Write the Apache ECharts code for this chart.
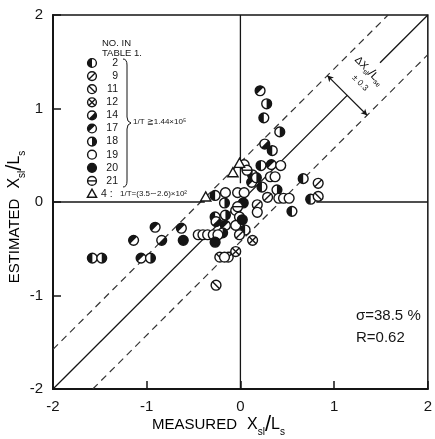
<!DOCTYPE html>
<html>
<head>
<meta charset="utf-8">
<script src="https://cdn.jsdelivr.net/npm/echarts@6/dist/echarts.min.js"></script>
<style>
html,body{margin:0;padding:0;background:#fff}
#chart{width:435px;height:439px}
</style>
</head>
<body>
<div id="chart"></div>
<script>
// measured / estimated Xsl/Ls, grouped by No. in Table 1
const no2  = [[0.25,0.90],[0.34,0.55],[0.22,0.39],[0.13,0.29],[0.23,0.16],[0.55,-0.10],[0.67,0.25],[0.75,0.03],[-0.27,0.07],[-0.27,-0.16],[0.05,-0.30],[-1.58,-0.60]]
const no9  = [[0.29,0.05],[0.83,0.20],[0.18,-0.03],[-0.01,-0.35],[-0.13,-0.59]]
const no11 = [[0.83,0.06],[-0.22,-0.59],[-0.26,-0.89]]
const no12 = [[0.13,-0.41],[-0.05,-0.53]]
const no14 = [[0.26,0.62],[-0.26,-0.21],[-0.84,-0.41]]
const no17 = [[0.21,1.19],[0.33,0.40],[0.12,0.21],[-0.16,-0.25],[-0.63,-0.28],[-0.91,-0.27],[-1.14,-0.41],[-1.06,-0.60]]
const no18 = [[0.28,1.05],[0.42,0.75],[0.17,0.26],[0.39,0.13],[-0.17,-0.01],[-0.16,-0.14],[-0.19,-0.33],[-1.48,-0.60],[-0.96,-0.60]]
const no19 = [[0.43,0.39],[0.04,0.40],[0.32,0.27],[0.37,0.27],[0.41,0.04],[0.46,0.04],[0.52,0.04],[-0.16,0.10],[-0.03,0.10],[0.04,0.10],[-0.05,-0.09],[0.18,-0.11],[-0.01,-0.16],[-0.05,-0.25],[-0.45,-0.35],[-0.40,-0.35],[-0.35,-0.35],[-0.29,-0.35],[-0.24,-0.35],[-0.17,-0.59]]
const no20 = [[0.03,-0.01],[0.02,-0.19],[-0.27,-0.43],[-0.61,-0.41]]
const no21 = [[0.07,0.34],[-0.03,-0.05]]
const no4  = [[-0.01,0.41],[-0.08,0.31],[-0.37,0.05]]

const legendNos = ['2','9','11','12','14','17','18','19','20','21']
const axisTicks = [-2,-1,0,1,2]
const band = 0.3 * Math.SQRT2   // +-0.3 measured perpendicular to the 1:1 line

const ink = '#151515'

// draws one marker of the given kind at pixel cx,cy
function mark(kind, cx, cy, r){
    const lw = 1.4
    const d = r * 0.72
    const sec = (a0, a1) => ({type:'sector', shape:{cx, cy, r0:0, r, startAngle:a0, endAngle:a1}, style:{fill:ink}})
    const seg = (x1, y1, x2, y2) => ({type:'line', shape:{x1, y1, x2, y2}, style:{stroke:ink, lineWidth:lw}})
    if(kind === '4'){
        return {type:'group', children:[{type:'polygon',
            shape:{points:[[cx, cy - r*1.1],[cx - r*1.05, cy + r*0.75],[cx + r*1.05, cy + r*0.75]]},
            style:{fill:'#fff', stroke:ink, lineWidth:lw}}]}
    }
    const kids = [{type:'circle', shape:{cx, cy, r}, style:{fill: kind === '20' ? ink : '#fff', stroke:ink, lineWidth:lw}}]
    switch(kind){
        case '2':  kids.push(sec(Math.PI/2, Math.PI*1.5)); break
        case '18': kids.push(sec(-Math.PI/2, Math.PI/2)); break
        case '14': kids.push(sec(-Math.PI/4, Math.PI*0.75)); break
        case '17': kids.push(sec(Math.PI*0.75, Math.PI*1.75)); break
        case '9':  kids.push(seg(cx-d, cy+d, cx+d, cy-d)); break
        case '11': kids.push(seg(cx-d, cy-d, cx+d, cy+d)); break
        case '12': kids.push(seg(cx-d, cy+d, cx+d, cy-d), seg(cx-d, cy-d, cx+d, cy+d)); break
        case '21': kids.push(seg(cx-r, cy, cx+r, cy)); break
    }
    return {type:'group', children:kids}
}

const groups = [['2',no2],['9',no9],['11',no11],['12',no12],['14',no14],['17',no17],
                ['18',no18],['19',no19],['20',no20],['21',no21],['4',no4]]

const pointSeries = groups.map(([kind, data]) => ({
    type:'custom',
    name:kind,
    data:data,
    z:5,
    renderItem:(params, api) => {
        const p = api.coord([api.value(0), api.value(1)])
        return mark(kind, p[0], p[1], 4.9)
    }
}))

const lineBase = {type:'line', symbol:'none', silent:true, z:2, animation:false}
const solid = {color:ink, width:1.3}
const dashed = {color:'#333', width:1.2, type:[7,5]}

const refSeries = [
    // 1:1 line, interrupted at the band label
    Object.assign({}, lineBase, {data:[[-2,-2],[1.14,1.14]], lineStyle:solid}),
    Object.assign({}, lineBase, {data:[[1.49,1.49],[2,2]], lineStyle:solid}),
    Object.assign({}, lineBase, {data:[[-2,-2+band],[2-band,2]], lineStyle:dashed}),
    Object.assign({}, lineBase, {data:[[-2+band,-2],[2,2-band]], lineStyle:dashed}),
    // zero cross, broken around the data cloud
    Object.assign({}, lineBase, {data:[[-2,0],[-0.38,0]], lineStyle:solid}),
    Object.assign({}, lineBase, {data:[[0.81,0],[2,0]], lineStyle:solid}),
    Object.assign({}, lineBase, {data:[[0,2],[0,0.2]], lineStyle:solid}),
    Object.assign({}, lineBase, {data:[[0,-0.59],[0,-2]], lineStyle:solid,
        markLine:{silent:true, symbol:['arrow','arrow'], symbolSize:[5,6], label:{show:false},
            lineStyle:{color:ink, width:1.2, type:'solid'},
            data:[[{coord:[1.14-band/2, 1.14+band/2]},{coord:[1.14+band/2, 1.14-band/2]}]]}})
]

const font = 'Liberation Sans, Arial, sans-serif'
const axisTitleRich = {
    t:{fontSize:15, fontFamily:font, color:ink, lineHeight:24, verticalAlign:'middle'},
    x:{fontSize:16, fontFamily:font, color:ink, lineHeight:24, verticalAlign:'middle'},
    s:{fontSize:10, fontFamily:font, color:ink, lineHeight:10, verticalAlign:'bottom'},
    sl:{fontSize:22, fontFamily:font, color:ink, lineHeight:24, verticalAlign:'middle'}
}
const titleText = (word) => '{t|' + word + '}   {x|X}{s|sl}{sl|/}{x|L}{s|s}'

const legendEls = []
legendNos.forEach((no, i) => {
    const y = 63 + i * 13.1
    legendEls.push(mark(no, 92, y, 4.4))
    legendEls.push({type:'text', x:118, y:y, style:{text:no, fontSize:10.5, fontFamily:font, fill:ink, align:'right', verticalAlign:'middle'}})
})
legendEls.push(mark('4', 92, 194, 4.4))

// curly brace around the legend rows
const bx = 127
const curve = (x1, y1, cpx, cpy, x2, y2) => ({type:'bezierCurve', shape:{x1, y1, x2, y2, cpx1:cpx, cpy1:cpy}, style:{fill:null, stroke:ink, lineWidth:1}})
const straight = (x1, y1, x2, y2) => ({type:'line', shape:{x1, y1, x2, y2}, style:{stroke:ink, lineWidth:1}})
legendEls.push(
    curve(bx-4, 59, bx, 59, bx, 65),
    straight(bx, 65, bx, 117),
    curve(bx, 117, bx, 122, bx+4, 123),
    curve(bx+4, 123, bx, 124, bx, 129),
    straight(bx, 129, bx, 181),
    curve(bx, 181, bx, 187, bx-4, 187)
)

legendEls.push(
    {type:'text', x:102, y:43, style:{text:'NO. IN', fontSize:9.5, fontFamily:font, fill:ink, verticalAlign:'middle'}},
    {type:'text', x:102, y:53, style:{text:'TABLE 1.', fontSize:9.5, fontFamily:font, fill:ink, verticalAlign:'middle'}},
    {type:'text', x:133, y:122, style:{text:'1/T ≧1.44×10⁵', fontSize:8, fontFamily:font, fill:ink, verticalAlign:'middle'}},
    {type:'text', x:101, y:194, style:{text:'4 :', fontSize:10.5, fontFamily:font, fill:ink, verticalAlign:'middle'}},
    {type:'text', x:120, y:194, style:{text:'1/T=(3.5∼2.6)×10²', fontSize:8, fontFamily:font, fill:ink, verticalAlign:'middle'}},
    {type:'text', x:356, y:316, style:{text:'σ=38.5 %', fontSize:15, fontFamily:font, fill:ink, verticalAlign:'middle'}},
    {type:'text', x:356, y:338, style:{text:'R=0.62', fontSize:15, fontFamily:font, fill:ink, verticalAlign:'middle'}},
    {type:'text', x:369, y:71, rotation:-Math.PI/4, style:{text:'{x|ΔX}{s|sl}{sl|/}{x|L}{s|se}', align:'center', verticalAlign:'middle',
        rich:{x:{fontSize:10.5, fontFamily:font, color:ink, lineHeight:14, verticalAlign:'middle'},
              s:{fontSize:7, fontFamily:font, color:ink, lineHeight:6, verticalAlign:'bottom'},
              sl:{fontSize:13, fontFamily:font, color:ink, lineHeight:14, verticalAlign:'middle'}}}},
    {type:'text', x:360, y:83, rotation:-Math.PI/4, style:{text:'± 0.3', fontSize:8.5, fontFamily:font, fill:ink, align:'center', verticalAlign:'middle'}},
    {type:'text', x:15, y:217, rotation:Math.PI/2, style:{text:titleText('ESTIMATED'), align:'center', verticalAlign:'middle', rich:axisTitleRich}},
    {type:'text', x:152, y:425, style:{text:titleText('MEASURED'), align:'left', verticalAlign:'middle', rich:axisTitleRich}}
)

const chart = echarts.init(document.getElementById('chart'))
const valueAxis = (margin) => ({
    type:'value', min:axisTicks[0], max:axisTicks[axisTicks.length-1], interval:1,
    axisLine:{show:true, onZero:false, lineStyle:{color:ink, width:2}},
    axisTick:{show:true, inside:true, length:8, lineStyle:{color:ink, width:1.5}},
    axisLabel:{color:ink, fontSize:15, fontFamily:font, margin:margin},
    splitLine:{show:false}
})
chart.setOption({
    animation:false,
    backgroundColor:'#fff',
    grid:{left:53, right:2, top:15, bottom:50, show:true, borderColor:ink, borderWidth:1.5},
    xAxis:valueAxis(10),
    yAxis:valueAxis(10),
    graphic:{elements:legendEls},
    series:refSeries.concat(pointSeries)
})
</script>
</body>
</html>
